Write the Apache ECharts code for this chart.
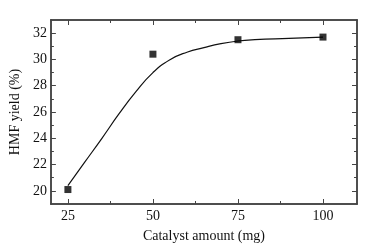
<!DOCTYPE html>
<html>
<head>
<meta charset="utf-8">
<script src="https://cdn.jsdelivr.net/npm/echarts@6/dist/echarts.min.js"></script>
<style>
  html, body { margin: 0; padding: 0; background: #fff; }
  #chart { width: 377px; height: 248px; }
</style>
</head>
<body>
<div id="chart"></div>
<script>
// measured points
const catalyst = [25, 50, 75, 100]
const yieldPct = [20.1, 30.4, 31.5, 31.7]

// fitted curve
const fitX = [25, 30, 35, 40, 45, 50, 55, 60, 65, 70, 75, 80, 90, 100]
const fitY = [20.4, 22.2, 24.0, 25.85, 27.55, 29.0, 29.98, 30.55, 30.9, 31.2, 31.4, 31.5, 31.6, 31.7]

const xMajor = [25, 50, 75, 100]
const xMinor = [37.5, 62.5, 87.5]
const yMajor = [20, 22, 24, 26, 28, 30, 32]
const yMinor = [21, 23, 25, 27, 29, 31]

const font = 'Liberation Serif'
const axisColor = '#444'
const textColor = '#111'

function xAx(pos, ticks, len, opts = {}) {
  return Object.assign({
    type: 'value', position: pos, min: 20, max: 110,
    axisLine: { show: true, lineStyle: { color: axisColor, width: 1.5 } },
    axisTick: { show: true, inside: true, length: len, customValues: ticks, lineStyle: { color: axisColor, width: 1 } },
    axisLabel: { show: false },
    splitLine: { show: false }
  }, opts)
}

function yAx(pos, ticks, len, opts = {}) {
  return Object.assign({
    type: 'value', position: pos, min: 19, max: 33,
    axisLine: { show: true, lineStyle: { color: axisColor, width: 1.5 } },
    axisTick: { show: true, inside: true, length: len, customValues: ticks, lineStyle: { color: axisColor, width: 1 } },
    axisLabel: { show: false },
    splitLine: { show: false }
  }, opts)
}

const chart = echarts.init(document.getElementById('chart'))
chart.setOption({
  animation: false,
  grid: { left: 49, right: 20, top: 20, bottom: 44 },
  xAxis: [
    xAx('bottom', xMajor, 5, {
      name: 'Catalyst amount (mg)',
      nameLocation: 'middle',
      nameGap: 25,
      nameTextStyle: { fontFamily: font, fontSize: 14, color: textColor },
      axisLabel: { show: true, customValues: xMajor, margin: 5, fontFamily: font, fontSize: 14, color: textColor }
    }),
    xAx('bottom', xMinor, 3),
    xAx('top', xMajor, 5),
    xAx('top', xMinor, 3)
  ],
  yAxis: [
    yAx('left', yMajor, 5, {
      name: 'HMF yield (%)',
      nameLocation: 'middle',
      nameGap: 28,
      nameTextStyle: { fontFamily: font, fontSize: 14, color: textColor },
      axisLabel: { show: true, customValues: yMajor, margin: 4, fontFamily: font, fontSize: 14, color: textColor }
    }),
    yAx('left', yMinor, 3),
    yAx('right', yMajor, 5),
    yAx('right', yMinor, 3)
  ],
  series: [
    {
      type: 'line',
      data: fitX.map((x, i) => [x, fitY[i]]),
      smooth: 0.5,
      symbol: 'none',
      lineStyle: { color: '#111', width: 1.2 },
      z: 2
    },
    {
      type: 'scatter',
      data: catalyst.map((x, i) => [x, yieldPct[i]]),
      symbol: 'rect',
      symbolSize: 7,
      itemStyle: { color: '#000' },
      z: 3
    }
  ]
})
</script>
</body>
</html>
